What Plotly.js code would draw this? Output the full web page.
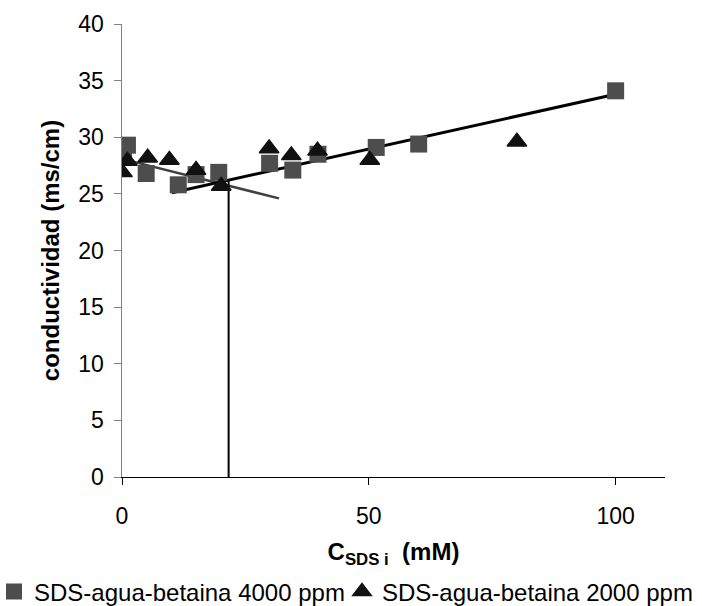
<!DOCTYPE html>
<html>
<head>
<meta charset="utf-8">
<script src="https://cdn.plot.ly/plotly-3.0.1.min.js"></script>
<style>html,body{margin:0;padding:0;background:#fff;}#chart{width:702px;height:606px;}</style>
</head>
<body>
<div id="chart"></div>
<script>
// Series 1: SDS-agua-betaina 4000 ppm (squares)
const sqX = [0.3, 1.1, 4.9, 11.4, 15.0, 19.6, 29.9, 34.6, 39.7, 51.5, 60.1, 100];
const sqY = [28.3, 29.3, 26.8, 25.8, 26.7, 26.9, 27.7, 27.1, 28.5, 29.1, 29.4, 34.1];
// Series 2: SDS-agua-betaina 2000 ppm (triangles)
const trX = [0.1, 1.1, 5.2, 9.6, 15.0, 20.1, 29.8, 34.3, 39.6, 50.2, 80.0];
const trY = [26.9, 27.9, 28.2, 28.0, 27.1, 25.7, 29.0, 28.4, 28.8, 28.0, 29.6];
// Fit lines
const fitHighX = [10.1, 100];
const fitHighY = [25.1, 33.8];
const fitLowX = [0.8, 31.8];
const fitLowY = [28.0, 24.6];
// CMC marker line
const cmcX = [21.6, 21.6];
const cmcY = [0, 26.3];

const names = ['SDS-agua-betaina 4000 ppm', 'SDS-agua-betaina 2000 ppm'];
const xTicks = [0, 50, 100];
const yTicks = [0, 5, 10, 15, 20, 25, 30, 35, 40];

const font = 'Liberation Sans, Arial, sans-serif';

const traces = [
  {x: fitLowX, y: fitLowY, mode: 'lines', line: {color: '#404040', width: 2.5}, showlegend: false, hoverinfo: 'skip'},
  {x: fitHighX, y: fitHighY, mode: 'lines', line: {color: '#000000', width: 3}, showlegend: false, hoverinfo: 'skip'},
  {x: cmcX, y: cmcY, mode: 'lines', line: {color: '#000000', width: 2}, showlegend: false, hoverinfo: 'skip'},
  {x: sqX, y: sqY, mode: 'markers', name: names[0], legend: 'legend',
   marker: {symbol: 'square', size: 17, color: '#4d4d4d'}},
  {x: trX, y: trY, mode: 'markers', name: names[1], legend: 'legend2',
   marker: {symbol: 'triangle-up', size: 17, color: '#111111', line: {color: '#111111', width: 1.5}}}
];

const plotL = 122, plotW = 543;
const legendBase = {
  orientation: 'h', xref: 'paper', yref: 'container', y: 14 / 606, yanchor: 'middle',
  font: {family: font, size: 24, color: '#000'}, itemwidth: 30, borderwidth: 0,
  bgcolor: 'rgba(0,0,0,0)'
};

const layout = {
  width: 702, height: 606,
  paper_bgcolor: '#ffffff', plot_bgcolor: '#ffffff',
  font: {family: font, color: '#000', size: 23},
  margin: {l: plotL, r: 37, t: 24, b: 128.5, autoexpand: false},
  showlegend: true,
  legend: Object.assign({}, legendBase, {x: (-6 - plotL) / plotW, xanchor: 'left'}),
  legend2: Object.assign({}, legendBase, {x: (342 - plotL) / plotW, xanchor: 'left'}),
  xaxis: {
    range: [0, 110], tickvals: xTicks, ticktext: xTicks.map(String),
    showgrid: false, zeroline: false, showline: true, linecolor: '#000', linewidth: 1,
    ticks: 'outside', ticklen: 7, tickcolor: '#000', tickwidth: 1,
    tickfont: {family: font, size: 23}, ticklabelstandoff: 11, automargin: false,
    title: {text: '<b>C<sub>SDS i</sub>&nbsp; (mM)</b>', font: {family: font, size: 24}, standoff: 21}
  },
  yaxis: {
    range: [0, 40], tickvals: yTicks, ticktext: yTicks.map(String),
    showgrid: false, zeroline: false, showline: true, linecolor: '#808080', linewidth: 1.5,
    ticks: 'outside', ticklen: 7, tickcolor: '#808080', tickwidth: 1,
    tickfont: {family: font, size: 23}, ticklabelstandoff: 5, automargin: false,
    title: {text: '<b>conductividad (ms/cm)</b>', font: {family: font, size: 24}, standoff: 12}
  }
};

Plotly.newPlot('chart', traces, layout, {displayModeBar: false, staticPlot: true});
</script>
</body>
</html>
